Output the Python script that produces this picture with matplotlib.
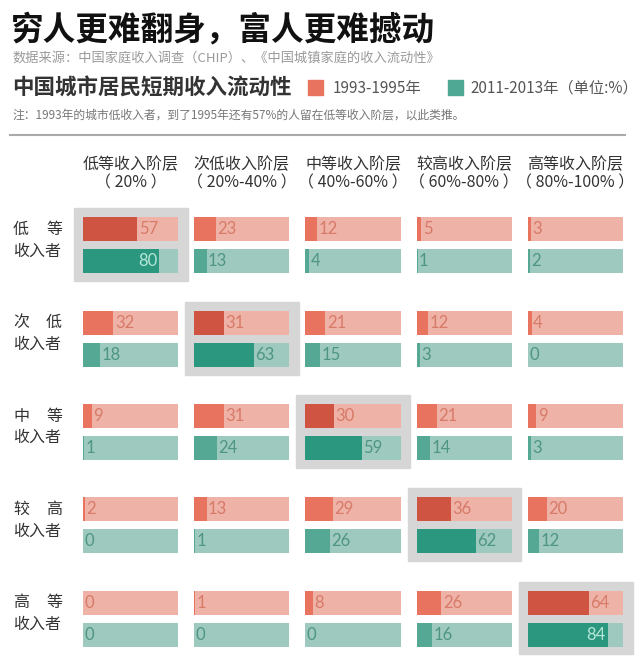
import matplotlib.pyplot as plt
from matplotlib.patches import Rectangle

plt.rcParams['font.family'] = ['Noto Sans CJK SC', 'DejaVu Sans']

# 原阶层 (行) -> 新阶层 (列)
row_names = [('低', '等'), ('次', '低'), ('中', '等'), ('较', '高'), ('高', '等')]
col_names = ['低等收入阶层', '次低收入阶层', '中等收入阶层', '较高收入阶层', '高等收入阶层']
col_ranges = ['（ 20% ）', '（ 20%-40% ）', '（ 40%-60% ）', '（ 60%-80% ）', '（ 80%-100% ）']

vals_1993 = [
    [57, 23, 12, 5, 3],
    [32, 31, 21, 12, 4],
    [9, 31, 30, 21, 9],
    [2, 13, 29, 36, 20],
    [0, 1, 8, 26, 64],
]
vals_2011 = [
    [80, 13, 4, 1, 2],
    [18, 63, 15, 3, 0],
    [1, 24, 59, 14, 3],
    [0, 1, 26, 62, 12],
    [0, 0, 0, 16, 84],
]

RED_TRACK, RED_FILL, RED_DARK, RED_TXT = '#efb2a7', '#e8745f', '#cf5442', '#d77a68'
GRN_TRACK, GRN_FILL, GRN_DARK, GRN_TXT = '#9dc9be', '#55a893', '#2b977e', '#4f9584'
BOX = '#d6d6d6'

W, H = 640, 668
fig = plt.figure(figsize=(W / 100, H / 100), dpi=100)

# 标题部分
fig.text(11 / W, 1 - 30 / H, '穷人更难翻身，富人更难撼动', fontsize=23.5, fontweight='heavy',
         color='#111111', va='center', ha='left')
fig.text(12 / W, 1 - 58 / H, '数据来源：中国家庭收入调查（CHIP）、《中国城镇家庭的收入流动性》',
         fontsize=9.5, color='#9a9a9a', va='center', ha='left')
fig.text(12 / W, 1 - 88 / H, '中国城市居民短期收入流动性', fontsize=15.5, fontweight='bold',
         color='#333333', va='center', ha='left')
fig.patches.append(Rectangle((308 / W, 1 - 95 / H), 15 / W, 15 / H, color='#e8745f',
                             transform=fig.transFigure, figure=fig))
fig.text(333 / W, 1 - 88 / H, '1993-1995年', fontsize=11, color='#555555', va='center', ha='left')
fig.patches.append(Rectangle((448 / W, 1 - 95 / H), 15 / W, 15 / H, color='#4fa893',
                             transform=fig.transFigure, figure=fig))
fig.text(470 / W, 1 - 88 / H, '2011-2013年（单位:%）', fontsize=11, color='#555555', va='center', ha='left')
fig.text(12 / W, 1 - 115 / H, '注：1993年的城市低收入者，到了1995年还有57%的人留在低等收入阶层，以此类推。',
         fontsize=8.5, color='#777777', va='center', ha='left')
fig.add_artist(plt.Line2D([10 / W, 625 / W], [1 - 135 / H, 1 - 135 / H], color='#aaaaaa', lw=1.5,
                          transform=fig.transFigure))

# 主图：x 单位为百分比，每列间隔 117
step = 117
gap = 0.343
bh = 0.257
ax = fig.add_axes([83 / W, 1 - 660 / H, 540 / W, (660 - 197) / H])
ax.set_xlim(0, 4 * step + 100)
ax.set_ylim(4.614, -0.348)
ax.axis('off')

n = len(row_names)
for i in range(n):
    for j in range(n):
        x0 = j * step
        diag = i == j
        if diag:
            ax.add_patch(Rectangle((x0 - 9.5, i - 0.225), 119.5, 0.78, color=BOX, zorder=0, clip_on=False))
        v1, v2 = vals_1993[i][j], vals_2011[i][j]
        ax.barh(i, 100, left=x0, height=bh, color=RED_TRACK, zorder=1)
        ax.barh(i + gap, 100, left=x0, height=bh, color=GRN_TRACK, zorder=1)
        ax.barh(i, v1, left=x0, height=bh, color=RED_DARK if diag else RED_FILL, zorder=2)
        ax.barh(i + gap, v2, left=x0, height=bh, color=GRN_DARK if diag else GRN_FILL, zorder=2)
        for v, y, txt in [(v1, i, RED_TXT), (v2, i + gap, GRN_TXT)]:
            if v >= 75:
                ax.text(x0 + v - 2, y, str(v), ha='right', va='center', fontsize=12,
                        color='#b6e6d8', family='Lato', zorder=3)
            else:
                ax.text(x0 + v + 1.5, y, str(v), ha='left', va='center', fontsize=12,
                        color=txt, family='Lato', zorder=3)

# 列标题
for j in range(n):
    xc = j * step + 50
    ax.text(xc, -0.70, col_names[j], ha='center', va='center', fontsize=11.5, color='#333333', clip_on=False)
    ax.text(xc, -0.50, col_ranges[j], ha='center', va='center', fontsize=11.5, color='#333333', clip_on=False)

# 行标题
for i, (a, b) in enumerate(row_names):
    y1 = 1 - (229.5 + i * 93.3) / H
    y2 = 1 - (251 + i * 93.3) / H
    fig.text(13 / W, y1, a, fontsize=11.5, color='#333333', ha='left', va='center')
    fig.text(62 / W, y1, b, fontsize=11.5, color='#333333', ha='right', va='center')
    fig.text(37.5 / W, y2, '收入者', fontsize=11.5, color='#333333', ha='center', va='center')

fig.savefig('out.png', dpi=100, facecolor='white')
